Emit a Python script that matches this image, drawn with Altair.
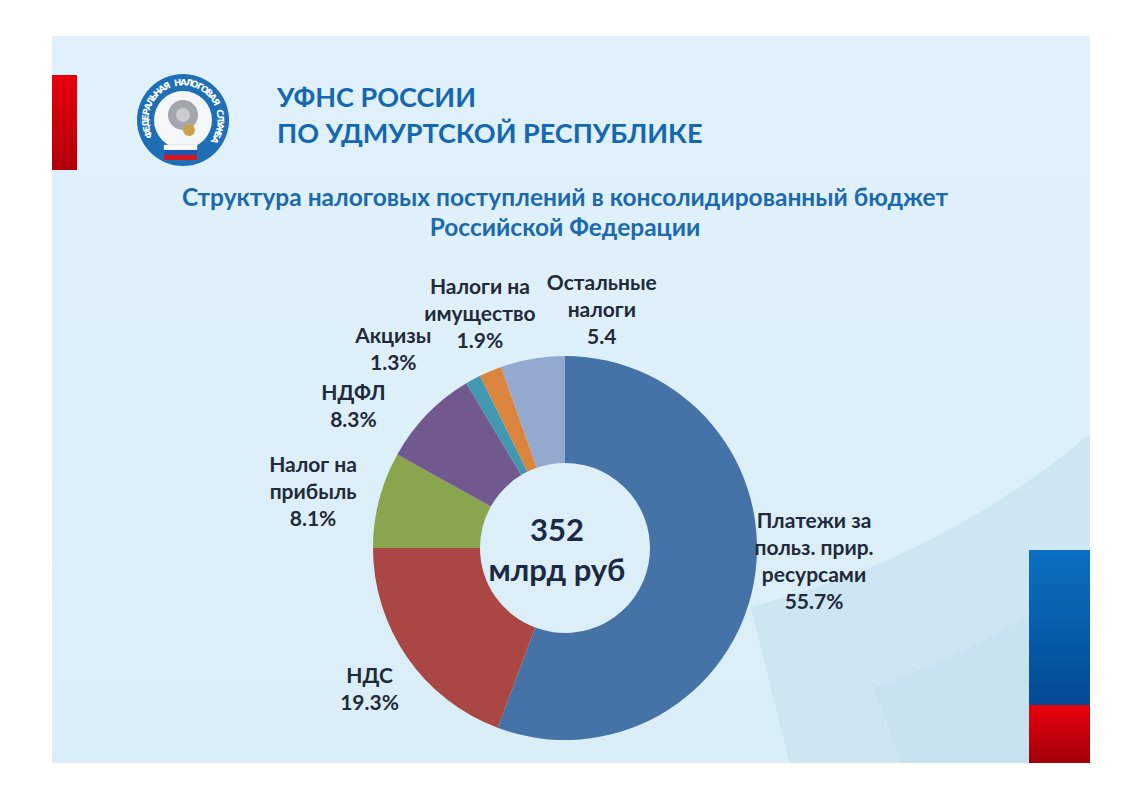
import math
import altair as alt
import pandas as pd

# ---------------- data ----------------
header_lines = ["УФНС РОССИИ", "ПО УДМУРТСКОЙ РЕСПУБЛИКЕ"]
title_lines = ["Структура налоговых поступлений в консолидированный бюджет",
               "Российской Федерации"]
logo_text = "ФЕДЕРАЛЬНАЯ НАЛОГОВАЯ СЛУЖБА"
categories = ["Платежи за\nпольз. прир.\nресурсами", "НДС", "Налог на\nприбыль",
              "НДФЛ", "Акцизы", "Налоги на\nимущество", "Остальные\nналоги"]
shares = [55.7, 19.3, 8.1, 8.3, 1.3, 1.9, 5.4]
value_labels = ["55.7%", "19.3%", "8.1%", "8.3%", "1.3%", "1.9%", "5.4"]
colors = ["#4572A7", "#AA4643", "#89A54E", "#71588F", "#4198AF", "#DB843D", "#93A9CF"]
total_lines = ["352", "млрд руб"]

# ---------------- layout ----------------
W, H = 1106, 777
CX, CY = 557, 540
FONT = "Lato"
LABEL_COLOR = "#1F2B3A"
BLUE_TXT = "#1467B1"
LINE_H = 27

df = pd.DataFrame({"category": categories, "share": shares, "order": list(range(len(shares)))})
df["label"] = [c + "\n" + v for c, v in zip(categories, value_labels)]
df["mid"] = df["share"].cumsum() - df["share"] / 2

base = alt.Chart(pd.DataFrame({"k": [0]}))


def rect(x0, y0, x1, y1, color, **kw):
    return base.mark_rect(color=color, **kw).encode(
        x=alt.value(x0), x2=alt.value(x1), y=alt.value(y0), y2=alt.value(y1))


def vgrad(c0, c1):
    return alt.Gradient(gradient="linear", x1=0, x2=0, y1=0, y2=1,
                        stops=[alt.GradientStop(color=c0, offset=0),
                               alt.GradientStop(color=c1, offset=1)])


def disc(x, y, r, color, r_in=0, **kw):
    return base.mark_arc(theta=0, theta2=2 * math.pi, outerRadius=r, innerRadius=r_in,
                         color=color, **kw).encode(x=alt.value(x), y=alt.value(y))


layers = []
# slide background
layers.append(rect(44, 28, 1082, 755, vgrad("#E1F1FB", "#DAEEF8")))
# swoosh (darker band at lower right)
layers.append(base.mark_arc(theta=math.radians(128), theta2=math.radians(166), outerRadius=1300,
                            innerRadius=846, color="#C9E3F0", opacity=0.8, clip=True).encode(
    x=alt.value(538), y=alt.value(-222)))
layers.append(base.mark_arc(theta=math.radians(128), theta2=math.radians(160), outerRadius=1300,
                            innerRadius=960, color="#C2DFEE", opacity=0.5, clip=True).encode(
    x=alt.value(538), y=alt.value(-222)))
# white margins covering overflow
layers.append(rect(1082, 0, W, H, "#FFFFFF"))
layers.append(rect(0, 755, W, H, "#FFFFFF"))
# side bars
layers.append(rect(44, 67, 69, 162, vgrad("#E8000C", "#B0000B")))
layers.append(rect(1021, 542, 1082, 697, vgrad("#0B70C2", "#034A94")))
layers.append(rect(1021, 697, 1082, 755, vgrad("#E8000C", "#A0000A")))

# logo
LX, LY = 175, 112
layers.append(disc(LX, LY, 46, "#1F6FB7"))
layers.append(disc(LX, LY, 29, "#F4F6F8"))
layers.append(disc(LX, LY - 5, 15, "#A3A6AC"))
layers.append(disc(LX, LY - 5, 7, "#C9CCD1"))
layers.append(disc(LX + 6, LY + 10, 6, "#C9A24A"))
layers.append(rect(156, 137, 189, 142, "#FFFFFF", stroke="#C8CDD4", strokeWidth=0.5))
layers.append(rect(156, 142, 189, 147, "#1C57B8"))
layers.append(rect(156, 147, 189, 152, "#D7141A"))
letters = pd.DataFrame({"ch": list(logo_text), "i": list(range(len(logo_text)))})
layers.append(
    alt.Chart(letters).transform_calculate(
        deg="248 + datum.i * 8.67", rad="(248 + datum.i * 8.67) * PI / 180"
    ).mark_text(font="DejaVu Sans", fontWeight="bold", fontSize=9, color="#FFFFFF",
                align="center", baseline="middle").encode(
        theta=alt.Theta("rad:Q", stack=None, scale=alt.Scale(domain=[0, 10], range=[0, 10])),
        radius=alt.value(37.5),
        angle=alt.Angle("deg:Q", scale=None),
        text="ch:N",
        x=alt.value(LX), y=alt.value(LY),
    )
)

# header
hdr = pd.DataFrame({"t": header_lines, "i": [0, 1]})
for i, yy in enumerate([91, 127]):
    layers.append(alt.Chart(hdr).transform_filter(alt.datum.i == i).mark_text(
        font=FONT, fontWeight="bold", fontSize=27, color=BLUE_TXT, align="left", baseline="middle"
    ).encode(text="t:N", x=alt.value(269), y=alt.value(yy)))

# title
ttl = pd.DataFrame({"t": title_lines, "i": [0, 1]})
for i, yy in enumerate([191, 221]):
    layers.append(alt.Chart(ttl).transform_filter(alt.datum.i == i).mark_text(
        font=FONT, fontWeight="bold", fontSize=24.5, color="#1B6AAE", align="center", baseline="middle"
    ).encode(text="t:N", x=alt.value(557), y=alt.value(yy)))

# donut
theta_scale = alt.Scale(domain=[0, 100], range=[0, 2 * math.pi])
layers.append(alt.Chart(df).mark_arc(outerRadius=192, innerRadius=85).encode(
    theta=alt.Theta("share:Q", stack=True, scale=theta_scale),
    color=alt.Color("category:N", scale=alt.Scale(domain=categories, range=colors), legend=None),
    order=alt.Order("order:Q"),
    x=alt.value(CX), y=alt.value(CY),
))

# slice labels
offsets = [(3, -30), (10, 0), (-10, 8), (-32, 33), (-52, 22), (12, -3), (79, 9)]
for i, (ddx, ddy) in enumerate(offsets):
    n_lines = df["label"][i].count("\n") + 1
    layers.append(alt.Chart(df).transform_filter(alt.datum.order == i).mark_text(
        font=FONT, fontWeight="bold", fontSize=21, color=LABEL_COLOR, align="center",
        baseline="middle", lineBreak="\n", lineHeight=LINE_H, dx=ddx,
        dy=ddy - (n_lines - 1) * LINE_H / 2
    ).encode(
        theta=alt.Theta("mid:Q", stack=None, scale=theta_scale),
        radius=alt.value(250),
        text="label:N",
        x=alt.value(CX), y=alt.value(CY),
    ))

# center total
tot = pd.DataFrame({"t": total_lines, "i": [0, 1]})
for i, yy in enumerate([524, 564]):
    layers.append(alt.Chart(tot).transform_filter(alt.datum.i == i).mark_text(
        font=FONT, fontWeight="bold", fontSize=31, color="#1B2A44", align="center", baseline="middle"
    ).encode(text="t:N", x=alt.value(549), y=alt.value(yy)))

chart = alt.layer(*layers).resolve_scale(theta="independent").properties(
    width=W, height=H, padding=0,
    autosize=alt.AutoSizeParams(type="fit", contains="padding"),
    background="#FFFFFF",
).configure_view(stroke=None)

chart.save("out.html", embed_options={"renderer": "svg", "actions": False})
